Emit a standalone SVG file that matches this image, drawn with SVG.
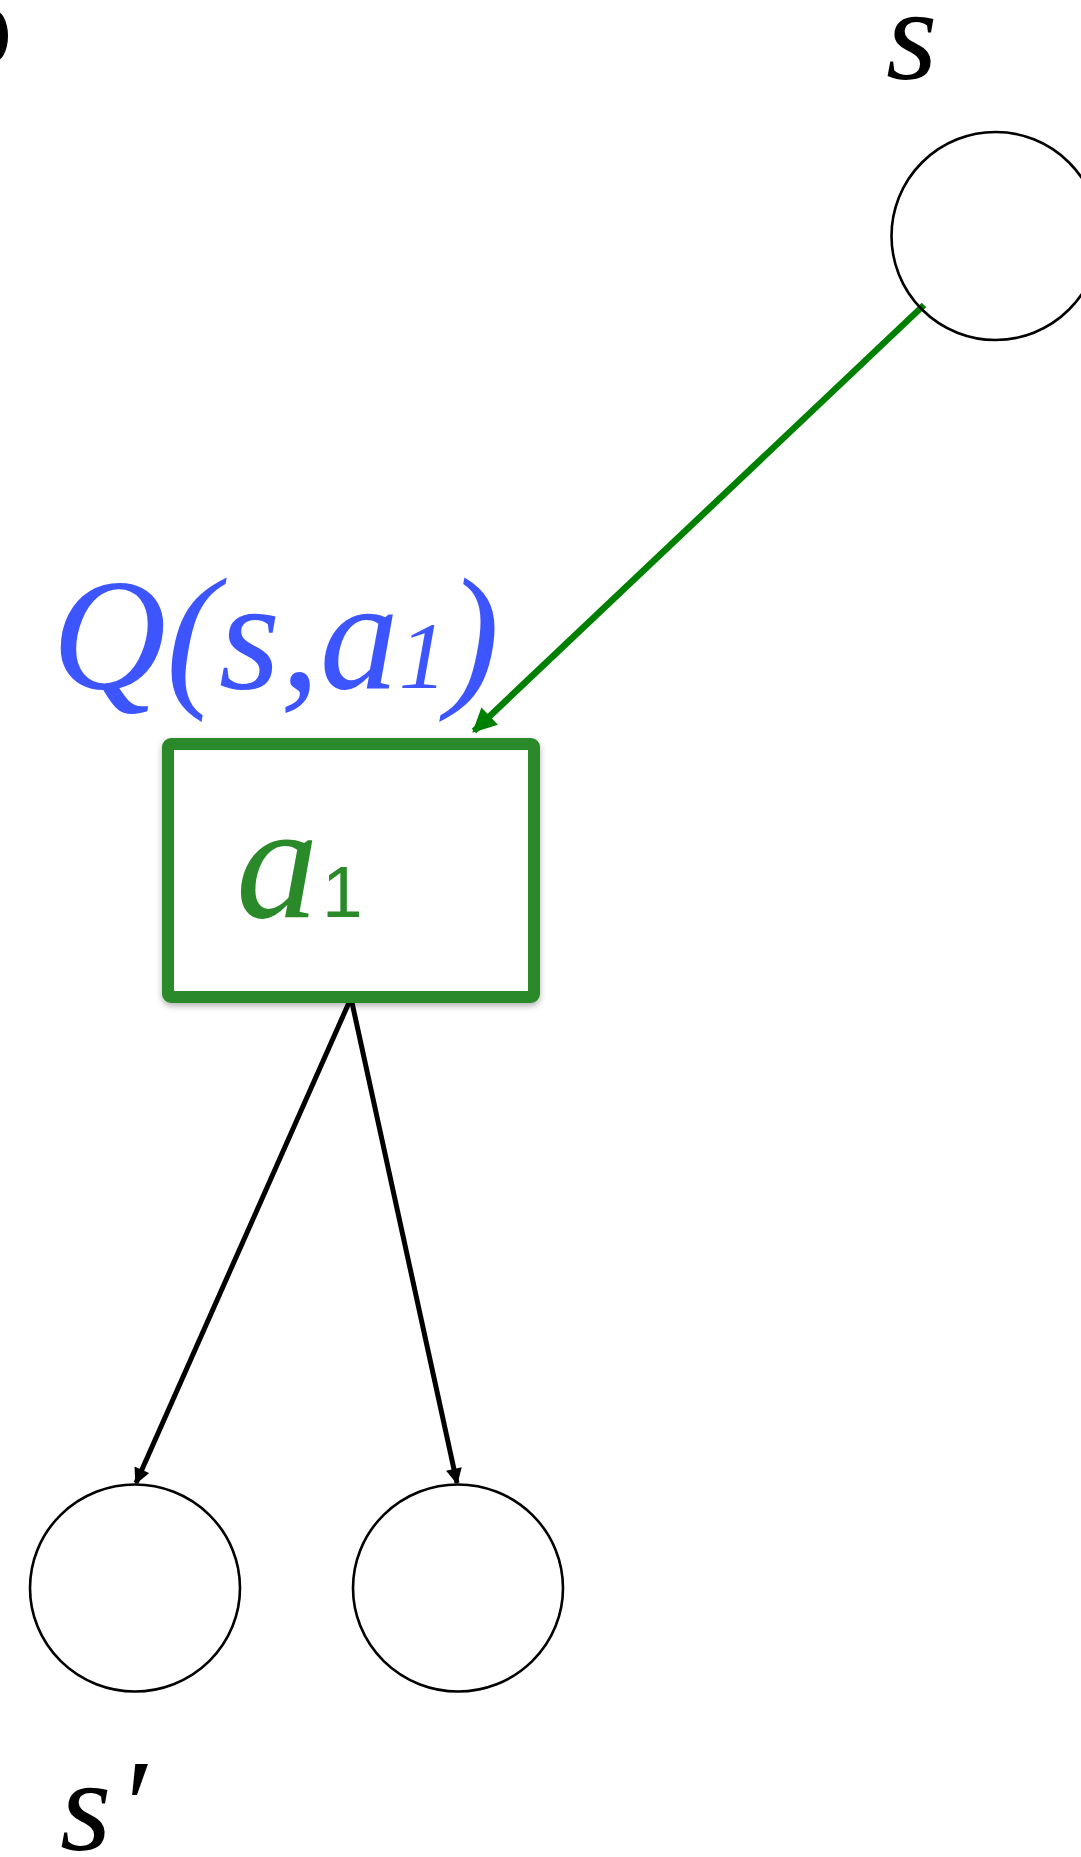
<svg xmlns="http://www.w3.org/2000/svg" width="1081" height="1857" viewBox="0 0 1081 1857">
<style>
.state{fill:none;stroke:#000;stroke-width:2.6}
.math{font-family:"Liberation Serif","Times New Roman",serif;font-style:italic}
.blk{stroke:#000;stroke-width:5;fill:none}
.grn{stroke:#008000;stroke-width:6.5;fill:none}
</style>
<defs>
<marker id="ah" viewBox="0 0 10 10" refX="9" refY="5" markerUnits="userSpaceOnUse" markerWidth="18" markerHeight="16" orient="auto"><path d="M0,0 L10,5 L0,10 Z" fill="#000"/></marker>
<marker id="ahg" viewBox="0 0 10 10" refX="9" refY="5" markerUnits="userSpaceOnUse" markerWidth="26" markerHeight="24" orient="auto"><path d="M0,0 L10,5 L0,10 Z" fill="#008000"/></marker>
<filter id="sh" x="-10%" y="-10%" width="120%" height="130%"><feDropShadow dx="0" dy="3" stdDeviation="3" flood-color="#000" flood-opacity="0.3"/></filter>
</defs>
<rect width="1081" height="1857" fill="#fff"/>
<ellipse cx="-6" cy="36" rx="14" ry="26" fill="#000"/>
<g id="connectors">
<line class="grn" x1="924" y1="305" x2="474" y2="731" marker-end="url(#ahg)"/>
<line class="blk" x1="351" y1="998" x2="136" y2="1483" marker-end="url(#ah)"/>
<line class="blk" x1="351" y1="998" x2="457" y2="1483" marker-end="url(#ah)"/>
</g>
<g id="node-s">
<circle class="state" cx="995.5" cy="236" r="104"/>
<text class="math" x="886" y="79" font-size="132" fill="#000">s</text>
</g>
<g id="node-a1">
<rect x="168" y="744" width="366" height="253" rx="3" fill="#fff" stroke="#2A8A2A" stroke-width="12" filter="url(#sh)"/>
<text x="236" y="917" fill="#2A8A2A"><tspan class="math" font-size="165">a</tspan><tspan font-family="Liberation Sans,Arial,sans-serif" font-size="73" x="322">1</tspan></text>
</g>
<g id="label-q">
<text class="math" x="52" y="688" font-size="158" fill="#3D55FF">Q(s,a<tspan font-size="96">1</tspan>)</text>
</g>
<g id="node-s1">
<ellipse class="state" cx="135" cy="1588" rx="105" ry="103.5"/>
</g>
<g id="node-s2">
<ellipse class="state" cx="458" cy="1588" rx="105" ry="103.5"/>
</g>
<g id="label-sprime">
<text class="math" x="60" y="1850" font-size="132" fill="#000">s<tspan dx="6">′</tspan></text>
</g>
</svg>
